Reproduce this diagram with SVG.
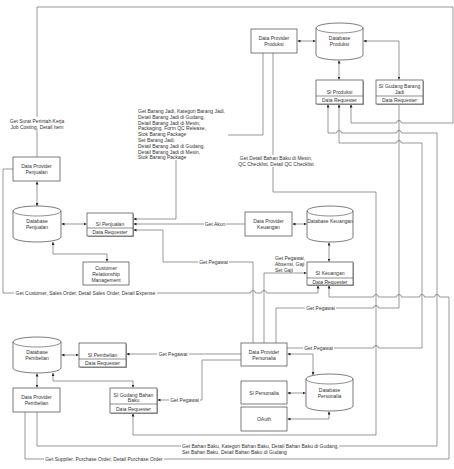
<svg xmlns="http://www.w3.org/2000/svg" width="454" height="469" viewBox="0 0 454 469">
<style>
.b{fill:#fff;stroke:#444;stroke-width:0.7}
.s{fill:#aaa;stroke:none}
.d{fill:none;stroke:#444;stroke-width:0.6}
.c{fill:none;stroke:#555;stroke-width:0.6}
.e{marker-end:url(#a)}
.bi{marker-start:url(#a);marker-end:url(#a)}
text{font-family:"Liberation Sans",Arial,sans-serif;font-size:5px;fill:#333;dominant-baseline:central}
.m{text-anchor:middle}
.bg{fill:#fff;stroke:none}
</style>
<defs>
<marker id="a" viewBox="0 0 6 6" refX="6" refY="3" markerWidth="3" markerHeight="3" markerUnits="userSpaceOnUse" orient="auto-start-reverse"><path d="M0,0 L6,3 L0,6 z" fill="#222"/></marker>
</defs>
<rect width="454" height="469" fill="#fff"/>

<g id="connectors">
<path class="c e" d="M37,157 V7 H453 V123 H401.5 A2.5 2.5 0 0 0 396.5,123 H351 V104.5"/>
<path class="c e" d="M263,53 V135 H176 V219 H133.5"/>
<path class="c e" d="M273,53 V192 H376 V435 H133 V413.5"/>
<path class="c e" d="M13,169 H3 V293 H250.5 A2.5 2.5 0 0 1 255.5,293 H261.5 A2.5 2.5 0 0 1 266.5,293 H318 V285.5"/>
<path class="c e" d="M25,412 V459 H449 V297 H439.5 A2.5 2.5 0 0 0 434.5,297 H424.5 A2.5 2.5 0 0 0 419.5,297 H401.5 A2.5 2.5 0 0 0 396.5,297 H378.5 A2.5 2.5 0 0 0 373.5,297 H329 V285.5"/>
<path class="c e" d="M37,412 V446 H437 V133 H401.5 A2.5 2.5 0 0 0 396.5,133 H341.5 A2.5 2.5 0 0 0 336.5,133 H328 V104.5"/>
<path class="c e" d="M253,343 V262 H163 V230 H133.5"/>
<path class="c e" d="M264,343 V273 H306.5"/>
<path class="c" d="M276,343 V308 H373.5 A2.5 2.5 0 0 1 378.5,308 H399 V104"/>
<path class="c e" d="M287,348 H373.5 A2.5 2.5 0 0 1 378.5,348 H422 V143 H401.5 A2.5 2.5 0 0 0 396.5,143 H339 V104.5"/>
<path class="c e" d="M241,354 H126.5"/>
<path class="c e" d="M241,360 H202 V400 H157.5"/>
<path class="c e" d="M245,224 H133.5"/>

<path class="c bi" d="M297.5,41 H315.5"/>
<path class="c bi" d="M339,60.5 V79.5"/>
<path class="c bi" d="M363.5,41 H399 V79.5"/>
<path class="c bi" d="M37,181.5 V206"/>
<path class="c bi" d="M61.5,224 H86.5"/>
<path class="c bi" d="M53,242 V254 H107 V261.5"/>
<path class="c bi" d="M292.5,224 H306.5"/>
<path class="c bi" d="M329,242.5 V261.5"/>
<path class="c bi" d="M61.5,355 H78.5"/>
<path class="c bi" d="M37,373.5 V387.5"/>
<path class="c bi" d="M53,373 V381 H133 V387.5"/>
<path class="c bi" d="M287.5,354 H313 V375"/>
<path class="c bi" d="M287.5,393 H305.5"/>
<path class="c bi" d="M287.5,419 H329 V411.5"/>

<rect class="bg" x="8" y="117" width="58" height="13"/>
<text class="m" x="37" y="121">Get Surat Perintah Kerja</text>
<text class="m" x="37" y="127">Job Costing, Detail Item</text>

<rect class="bg" x="137" y="108" width="91" height="52"/>
<text x="138" y="111">Get Barang Jadi, Kategori Barang Jadi,</text>
<text x="138" y="116.8">Detail Barang Jadi di Gudang,</text>
<text x="138" y="122.6">Detail Barang Jadi di Mesin,</text>
<text x="138" y="128.4">Packaging, Form QC Release,</text>
<text x="138" y="134.2">Stok Barang Package</text>
<text x="138" y="140">Set Barang Jadi,</text>
<text x="138" y="145.8">Detail Barang Jadi di Gudang,</text>
<text x="138" y="151.6">Detail Barang Jadi di Mesin,</text>
<text x="138" y="157.4">Stok Barang Package</text>

<rect class="bg" x="237" y="155" width="79" height="12"/>
<text class="m" x="276" y="158">Get Detail Bahan Baku di Mesin,</text>
<text class="m" x="276" y="164">QC Checklist, Detail QC Checklist</text>

<rect class="bg" x="14" y="290" width="143" height="6"/>
<text class="m" x="85.5" y="293">Get Customer, Sales Order, Detail Sales Order, Detail Expense</text>

<rect class="bg" x="44" y="456" width="120" height="6"/>
<text class="m" x="104" y="459">Get Supplier, Purchase Order, Detail Purchase Order</text>

<rect class="bg" x="181" y="443" width="158" height="12"/>
<text x="182" y="446">Get Bahan Baku, Kategori Bahan Baku, Detail Bahan Baku di Gudang,</text>
<text x="182" y="452">Set Bahan Baku, Detail Bahan Baku di Gudang</text>

<rect class="bg" x="198" y="259" width="31" height="6"/>
<text class="m" x="213.5" y="262">Get Pegawai</text>
<rect class="bg" x="204" y="221" width="22" height="6"/>
<text class="m" x="215" y="224">Get Akun</text>
<rect class="bg" x="305" y="305" width="31" height="6"/>
<text class="m" x="320.5" y="308">Get Pegawai</text>
<rect class="bg" x="303" y="345" width="31" height="6"/>
<text class="m" x="318.5" y="348">Get Pegawai</text>
<rect class="bg" x="157" y="351" width="32" height="6"/>
<text class="m" x="173" y="354">Get Pegawai</text>
<rect class="bg" x="169" y="397" width="31" height="6"/>
<text class="m" x="184.5" y="400">Get Pegawai</text>

<text x="275" y="257.5">Get Pegawai,</text>
<text x="275" y="263.5">Absensi, Gaji</text>
<text x="275" y="269.5">Set Gaji</text>
</g>

<g id="dp-produksi">
<rect class="b" x="251" y="29" width="46" height="24"/>
<text class="m" x="274" y="38">Data Provider</text>
<text class="m" x="274" y="44">Produksi</text>
</g>
<g id="db-produksi">
<path class="b" d="M316,28 A23.5,5 0 0 1 363,28 V55 A23.5,5 0 0 1 316,55 Z"/>
<path class="d" d="M316,28 A23.5,5 0 0 0 363,28"/>
<text class="m" x="339.5" y="38">Database</text>
<text class="m" x="339.5" y="44">Produksi</text>
</g>
<g id="si-produksi">
<rect class="s" x="317" y="81" width="47" height="24"/>
<rect class="b" x="316" y="80" width="47" height="24"/>
<line class="d" x1="316" y1="96" x2="363" y2="96"/>
<text class="m" x="339.5" y="91.5">SI Produksi</text>
<text class="m" x="339.5" y="100">Data Requester</text>
</g>
<g id="si-gudang-barang-jadi">
<rect class="s" x="377" y="81" width="47" height="24"/>
<rect class="b" x="376" y="80" width="47" height="24"/>
<line class="d" x1="376" y1="96" x2="423" y2="96"/>
<text class="m" x="399.5" y="86">SI Gudang Barang</text>
<text class="m" x="399.5" y="91.5">Jadi</text>
<text class="m" x="399.5" y="100">Data Requester</text>
</g>
<g id="dp-penjualan">
<rect class="b" x="13" y="157" width="47" height="24"/>
<text class="m" x="36.5" y="166">Data Provider</text>
<text class="m" x="36.5" y="172">Penjualan</text>
</g>
<g id="db-penjualan">
<path class="b" d="M13,211 A24,5 0 0 1 61,211 V237 A24,5 0 0 1 13,237 Z"/>
<path class="d" d="M13,211 A24,5 0 0 0 61,211"/>
<text class="m" x="37" y="221">Database</text>
<text class="m" x="37" y="227">Penjualan</text>
</g>
<g id="si-penjualan">
<rect class="s" x="88" y="214" width="46" height="23"/>
<rect class="b" x="87" y="213" width="46" height="23"/>
<line class="d" x1="87" y1="228" x2="133" y2="228"/>
<text class="m" x="110" y="223.5">SI Penjualan</text>
<text class="m" x="110" y="232">Data Requester</text>
</g>
<g id="crm">
<rect class="b" x="83" y="262" width="46" height="23"/>
<text class="m" x="106" y="267.5">Customer</text>
<text class="m" x="106" y="273.5">Relationship</text>
<text class="m" x="106" y="279.5">Management</text>
</g>
<g id="dp-keuangan">
<rect class="b" x="245" y="212" width="47" height="24"/>
<text class="m" x="268.5" y="221">Data Provider</text>
<text class="m" x="268.5" y="227">Keuangan</text>
</g>
<g id="db-keuangan">
<path class="b" d="M307,211 A23,5 0 0 1 353,211 V237 A23,5 0 0 1 307,237 Z"/>
<path class="d" d="M307,211 A23,5 0 0 0 353,211"/>
<text class="m" x="330" y="221">Database Keuangan</text>
</g>
<g id="si-keuangan">
<rect class="s" x="308" y="263" width="46" height="23"/>
<rect class="b" x="307" y="262" width="46" height="23"/>
<line class="d" x1="307" y1="278" x2="353" y2="278"/>
<text class="m" x="330" y="273">SI Keuangan</text>
<text class="m" x="330" y="281.5">Data Requester</text>
</g>
<g id="db-pembelian">
<path class="b" d="M13,342 A24,5 0 0 1 61,342 V368 A24,5 0 0 1 13,368 Z"/>
<path class="d" d="M13,342 A24,5 0 0 0 61,342"/>
<text class="m" x="37" y="352">Database</text>
<text class="m" x="37" y="358">Pembelian</text>
</g>
<g id="si-pembelian">
<rect class="s" x="80" y="344" width="47" height="24"/>
<rect class="b" x="79" y="343" width="47" height="24"/>
<line class="d" x1="79" y1="359" x2="126" y2="359"/>
<text class="m" x="102.5" y="355">SI Pembelian</text>
<text class="m" x="102.5" y="363">Data Requester</text>
</g>
<g id="dp-pembelian">
<rect class="b" x="13" y="388" width="47" height="24"/>
<text class="m" x="36.5" y="397">Data Provider</text>
<text class="m" x="36.5" y="403">Pembelian</text>
</g>
<g id="si-gudang-bahan-baku">
<rect class="s" x="111" y="389" width="47" height="25"/>
<rect class="b" x="110" y="388" width="47" height="25"/>
<line class="d" x1="110" y1="404" x2="157" y2="404"/>
<text class="m" x="133.5" y="394.5">SI Gudang Bahan</text>
<text class="m" x="133.5" y="400">Baku</text>
<text class="m" x="133.5" y="408.5">Data Requester</text>
</g>
<g id="dp-personalia">
<rect class="b" x="241" y="343" width="46" height="23"/>
<text class="m" x="264" y="351.5">Data Provider</text>
<text class="m" x="264" y="357.5">Personalia</text>
</g>
<g id="si-personalia">
<rect class="b" x="241" y="381" width="46" height="23"/>
<text class="m" x="264" y="392.5">SI Personalia</text>
</g>
<g id="oauth">
<rect class="b" x="241" y="407" width="46" height="24"/>
<text class="m" x="264" y="419">OAuth</text>
</g>
<g id="db-personalia">
<path class="b" d="M306,379 A23.5,5 0 0 1 353,379 V406 A23.5,5 0 0 1 306,406 Z"/>
<path class="d" d="M306,379 A23.5,5 0 0 0 353,379"/>
<text class="m" x="329.5" y="390">Database</text>
<text class="m" x="329.5" y="396">Personalia</text>
</g>
</svg>
